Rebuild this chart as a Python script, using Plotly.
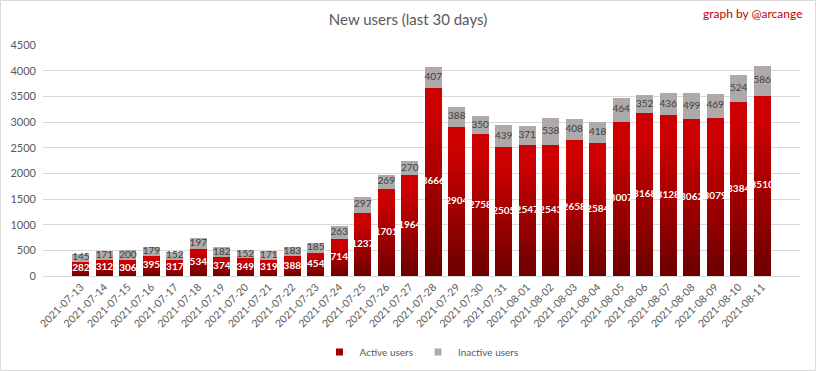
import plotly.graph_objects as go

dates = ["2021-07-13","2021-07-14","2021-07-15","2021-07-16","2021-07-17","2021-07-18",
         "2021-07-19","2021-07-20","2021-07-21","2021-07-22","2021-07-23","2021-07-24",
         "2021-07-25","2021-07-26","2021-07-27","2021-07-28","2021-07-29","2021-07-30",
         "2021-07-31","2021-08-01","2021-08-02","2021-08-03","2021-08-04","2021-08-05",
         "2021-08-06","2021-08-07","2021-08-08","2021-08-09","2021-08-10","2021-08-11"]
active = [282, 312, 306, 395, 317, 534, 374, 349, 319, 388, 454, 714, 1237, 1701, 1964,
          3666, 2904, 2758, 2505, 2547, 2543, 2658, 2584, 3007, 3168, 3128, 3062, 3079, 3384, 3510]
inactive = [145, 171, 200, 179, 152, 197, 182, 152, 171, 183, 185, 263, 297, 269, 270,
            407, 388, 350, 439, 371, 538, 408, 418, 464, 352, 436, 499, 469, 524, 586]

W, H = 816, 371
ML, MR, MT, MB = 43, 16, 45, 95
PW, PH = W - ML - MR, H - MT - MB

FONT = "Lato, 'Open Sans', sans-serif"
GRAY_TXT = "#595959"

fig = go.Figure()

# gradient fill of active bars: stack of thin slices, dark at bottom, bright at top
N = 30
c_bot = (0x6C, 0x00, 0x00)
c_top = (0xCC, 0x00, 0x00)
for k in range(N):
    t = min(1.0, (k + 0.5) / N / 0.85)
    col = tuple(int(round(c_bot[i] + (c_top[i] - c_bot[i]) * t)) for i in range(3))
    fig.add_trace(go.Bar(
        x=dates, y=[a / N for a in active],
        marker=dict(color="rgb(%d,%d,%d)" % col, line=dict(width=0)),
        showlegend=False, hoverinfo="skip",
    ))

fig.add_trace(go.Bar(
    x=dates, y=inactive, name="Inactive users",
    marker=dict(color="#AEAAAA", line=dict(width=0)),
    showlegend=False,
))

# labels
fig.add_trace(go.Scatter(
    x=dates, y=[a / 2 for a in active], mode="text",
    text=[str(a) for a in active],
    textfont=dict(family=FONT, size=10, color="white", weight="bold"),
    showlegend=False, hoverinfo="skip",
))
fig.add_trace(go.Scatter(
    x=dates, y=[a + b / 2 for a, b in zip(active, inactive)], mode="text",
    text=[str(b) for b in inactive],
    textfont=dict(family=FONT, size=10, color="#404040"),
    showlegend=False, hoverinfo="skip",
))

# legend entries
fig.add_trace(go.Scatter(x=[None], y=[None], name="Active users", mode="markers",
                         marker=dict(color="#A00000", symbol="square", size=7)))
fig.add_trace(go.Scatter(x=[None], y=[None], name="Inactive users", mode="markers",
                         marker=dict(color="#AEAAAA", symbol="square", size=7)))

fig.update_layout(
    width=W, height=H,
    margin=dict(l=ML, r=MR, t=MT, b=MB, autoexpand=False),
    barmode="stack", bargap=0.28,
    paper_bgcolor="white", plot_bgcolor="white",
    font=dict(family=FONT, color=GRAY_TXT, size=11),
    title=dict(text="New users (last 30 days)", x=0.5, xref="container", xanchor="center",
               y=1 - 20 / H, yref="container", yanchor="middle",
               font=dict(family=FONT, size=15, color=GRAY_TXT)),
    legend=dict(orientation="h", x=0.5, xanchor="center", y=-(352 - (H - MB)) / PH,
                yanchor="middle", traceorder="normal",
                font=dict(family=FONT, size=10, color=GRAY_TXT),
                itemwidth=30, bgcolor="rgba(0,0,0,0)"),
    xaxis=dict(type="category", tickangle=-45, showgrid=False, showline=True,
               linecolor="#D9D9D9", ticks="", automargin=False,
               tickfont=dict(size=10.5, color=GRAY_TXT)),
    yaxis=dict(range=[0, 4500], dtick=500, showgrid=True, gridcolor="#D9D9D9",
               zeroline=False, showline=False, ticks="", ticklabelstandoff=6, automargin=False,
               tickfont=dict(size=11, color=GRAY_TXT)),
    annotations=[dict(text="graph by @arcange", xref="paper", yref="paper",
                      x=(805 - ML) / PW, xanchor="right", y=1 + (MT - 13) / PH, yanchor="middle",
                      showarrow=False, font=dict(family=FONT, size=12, color="#C00000"))],
    shapes=[dict(type="rect", xref="paper", yref="paper",
                 x0=(-ML + 0.5) / PW, x1=1 + (MR - 0.5) / PW,
                 y0=-(MB - 0.5) / PH, y1=1 + (MT - 0.5) / PH,
                 line=dict(color="#D9D9D9", width=1), layer="below")],
    showlegend=True,
)

fig.write_html("out.html", config={"displayModeBar": False},
               post_script="document.body.style.margin='0';")
